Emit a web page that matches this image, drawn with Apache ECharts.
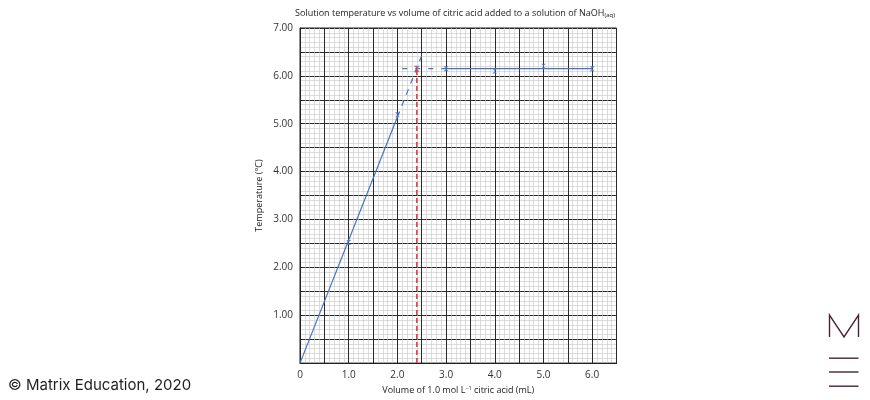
<!DOCTYPE html>
<html>
<head>
<meta charset="utf-8">
<script src="https://cdn.jsdelivr.net/npm/echarts@6/dist/echarts.min.js"></script>
<style>html,body{margin:0;padding:0;background:#fff}#c{width:870px;height:400px}</style>
</head>
<body>
<div id="c"></div>
<script>
// data
const measuredX = [1.0, 2.0, 3.0, 4.0, 5.0, 6.0];
const measuredY = [2.52, 5.19, 6.15, 6.10, 6.20, 6.15];
const riseSolidX = [0, 2.0];
const riseSolidY = [0, 5.14];
const riseDashX = [2.0, 2.53];
const riseDashY = [5.14, 6.5];
const flatDashX = [2.1, 3.0];
const flatDashY = [6.15, 6.15];
const flatSolidX = [3.0, 6.0];
const flatSolidY = [6.15, 6.15];
const endpointX = [2.4];
const endpointY = [6.15];
const dropX = [2.4, 2.4];
const dropY = [0, 6.15];

const zip = (a, b) => a.map((v, i) => [v, b[i]]);
const blue = '#4a72c0';
const red = '#e23a44';
const mark = 'path://M0,0 L10,0 L0,10 L10,10 Z';

const chart = echarts.init(document.getElementById('c'));
const lbl = {color: '#333', fontSize: 10, fontFamily: 'Open Sans'};
chart.setOption({
  animation: false,
  grid: {left: 300, right: 253.5, top: 28, bottom: 32, show: true, borderColor: '#222', borderWidth: 1},
  title: {
    text: 'Solution temperature vs volume of citric acid added to a solution of NaOH{s|(aq)}',
    left: 450, top: 3, textAlign: 'center',
    textStyle: {fontSize: 9, fontWeight: 'normal', color: '#222', fontFamily: 'Open Sans',
      rich: {s: {fontSize: 6, verticalAlign: 'bottom', padding: [4, 0, 0, 0], color: '#222', fontFamily: 'Open Sans'}}}
  },
  xAxis: {
    type: 'value', min: 0, max: 6.5, interval: 0.5,
    name: 'Volume of 1.0 mol L{sup|−1} citric acid (mL)', nameLocation: 'middle', nameGap: 20,
    nameTextStyle: {fontSize: 9, color: '#222', fontFamily: 'Open Sans', rich: {sup: {fontSize: 5.5, verticalAlign: 'top', padding: [0, 0, 5, 0], color: '#222'}}},
    axisLine: {show: true, lineStyle: {color: '#222', width: 1}},
    axisTick: {show: false},
    axisLabel: Object.assign({margin: 7, formatter: v => (Math.abs(v - Math.round(v)) < 1e-6 && v <= 6) ? (v === 0 ? '0' : v.toFixed(1)) : ''}, lbl),
    splitLine: {show: true, lineStyle: {color: '#2a2a2a', width: 1}},
    minorTick: {show: false, splitNumber: 5},
    minorSplitLine: {show: true, lineStyle: {color: '#c6c6c6', width: 0.6}}
  },
  yAxis: {
    type: 'value', min: 0, max: 7, interval: 0.5,
    name: 'Temperature (°C)', nameLocation: 'middle', nameGap: 36, nameRotate: 90,
    nameTextStyle: {fontSize: 9, color: '#222', fontFamily: 'Open Sans'},
    axisLine: {show: true, lineStyle: {color: '#222', width: 1}},
    axisTick: {show: false},
    axisLabel: Object.assign({margin: 7, formatter: v => (Math.abs(v - Math.round(v)) < 1e-6 && v > 0) ? v.toFixed(2) : ''}, lbl),
    splitLine: {show: true, lineStyle: {color: '#2a2a2a', width: 1}},
    minorTick: {show: false, splitNumber: 5},
    minorSplitLine: {show: true, lineStyle: {color: '#c6c6c6', width: 0.6}}
  },
  series: [
    {type: 'line', data: zip(riseSolidX, riseSolidY), symbol: 'none', lineStyle: {color: blue, width: 1.2}},
    {type: 'line', data: zip(riseDashX, riseDashY), symbol: 'none', lineStyle: {color: blue, width: 1.2, type: [6, 6]}},
    {type: 'line', data: zip(flatDashX, flatDashY), symbol: 'none', lineStyle: {color: blue, width: 1.2, type: [5, 8]}},
    {type: 'line', data: zip(flatSolidX, flatSolidY), symbol: 'none', lineStyle: {color: blue, width: 1.2}},
    {type: 'line', data: zip(dropX, dropY), symbol: 'none', lineStyle: {color: red, width: 1.6, type: [5, 3]}},
    {type: 'scatter', data: zip(measuredX, measuredY), symbol: mark, symbolSize: 5, itemStyle: {color: blue}},
    {type: 'scatter', data: zip(endpointX, endpointY), symbol: mark, symbolSize: 6, itemStyle: {color: red}}
  ],
  graphic: [
    {type: 'text', left: 8, top: 378, style: {text: '© Matrix Education, 2020', fontSize: 15, fill: '#1e1e1e', fontFamily: 'Inter'}},
    {type: 'polyline', shape: {points: [[829.5, 337], [829.5, 315], [844, 337], [858.5, 315], [858.5, 337]]}, style: {stroke: '#4a2236', lineWidth: 1.4, fill: null}},
    {type: 'rect', shape: {x: 829, y: 357.5, width: 29.5, height: 1.4}, style: {fill: '#4a2236'}},
    {type: 'rect', shape: {x: 829, y: 371.3, width: 29.5, height: 1.4}, style: {fill: '#4a2236'}},
    {type: 'rect', shape: {x: 829, y: 385.5, width: 29.5, height: 1.4}, style: {fill: '#4a2236'}}
  ]
});
</script>
</body>
</html>
